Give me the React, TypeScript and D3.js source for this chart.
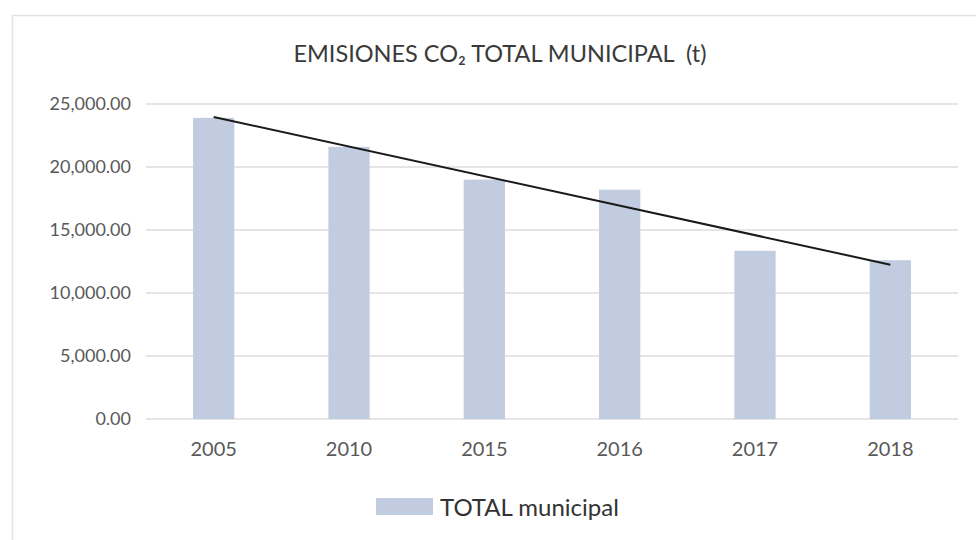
import { useEffect, useRef } from 'react';
import * as d3 from 'd3';

const years = ['2005', '2010', '2015', '2016', '2017', '2018'];
const totals = [23900, 21600, 19000, 18200, 13350, 12600];
const yTicks = [0, 5000, 10000, 15000, 20000, 25000];
const seriesName = 'TOTAL municipal';

const FONT = 'Lato, "Open Sans", sans-serif';

export default function App() {
  const ref = useRef<SVGSVGElement>(null);

  useEffect(() => {
    const width = 976;
    const height = 540;
    const margin = { top: 104, right: 18, bottom: 121, left: 146 };
    const innerWidth = width - margin.left - margin.right;
    const innerHeight = height - margin.top - margin.bottom;

    const svg = d3.select(ref.current);
    svg.selectAll('*').remove();

    svg.append('rect').attr('width', width).attr('height', height).attr('fill', '#fff');

    // chart frame (only top and left edges show)
    svg.append('path')
      .attr('d', `M12.5,${height}V15.5H${width}`)
      .attr('fill', 'none')
      .attr('stroke', '#e3e3e3')
      .attr('stroke-width', 1.5);

    svg.append('text')
      .attr('x', 500)
      .attr('y', 62)
      .attr('text-anchor', 'middle')
      .attr('font-family', FONT)
      .attr('font-size', 23.5)
      .attr('fill', '#3a3a3a')
      .style('white-space', 'pre')
      .text('EMISIONES CO₂ TOTAL MUNICIPAL  (t)');

    const g = svg.append('g').attr('transform', `translate(${margin.left}, ${margin.top})`);

    const x = d3.scaleBand().domain(years).range([0, innerWidth]).paddingInner(0.695).paddingOuter(0.3475);
    const y = d3.scaleLinear().domain([0, 25000]).range([innerHeight, 0]);

    g.selectAll('.grid')
      .data(yTicks)
      .join('line')
      .attr('class', 'grid')
      .attr('x1', 0)
      .attr('x2', innerWidth)
      .attr('y1', (d) => y(d))
      .attr('y2', (d) => y(d))
      .attr('stroke', '#dcdcdc')
      .attr('stroke-width', 1.3);

    g.selectAll('.ylab')
      .data(yTicks)
      .join('text')
      .attr('class', 'ylab')
      .attr('x', -15)
      .attr('y', (d) => y(d))
      .attr('dy', '0.36em')
      .attr('text-anchor', 'end')
      .attr('font-family', FONT)
      .attr('font-size', 18)
      .attr('fill', '#595959')
      .text((d) => d3.format(',.2f')(d));

    g.selectAll('.bar')
      .data(totals)
      .join('rect')
      .attr('class', 'bar')
      .attr('x', (d, i) => x(years[i])!)
      .attr('width', x.bandwidth())
      .attr('y', (d) => y(d))
      .attr('height', (d) => innerHeight - y(d))
      .attr('fill', '#c2cce0');

    g.selectAll('.xlab')
      .data(years)
      .join('text')
      .attr('class', 'xlab')
      .attr('x', (d) => x(d)! + x.bandwidth() / 2)
      .attr('y', innerHeight + 37)
      .attr('text-anchor', 'middle')
      .attr('font-family', FONT)
      .attr('font-size', 20)
      .attr('fill', '#595959')
      .text((d) => d);

    // linear trendline (least squares over category index)
    const idx = totals.map((_, i) => i + 1);
    const mx = d3.mean(idx)!;
    const my = d3.mean(totals)!;
    const slope = d3.sum(idx, (v, i) => (v - mx) * (totals[i] - my)) / d3.sum(idx, (v) => (v - mx) ** 2);
    const icpt = my - slope * mx;
    const trend = years.map((yr, i) => [x(yr)! + x.bandwidth() / 2, y(icpt + slope * (i + 1))] as [number, number]);
    const ends = [trend[0], trend[trend.length - 1]];

    g.append('path')
      .attr('d', d3.line()(ends))
      .attr('fill', 'none')
      .attr('stroke', '#1a1a1a')
      .attr('stroke-width', 2);

    const legend = svg.append('g').attr('transform', 'translate(376, 498)');
    legend.append('rect').attr('width', 57).attr('height', 17).attr('fill', '#c2cce0');
    legend.append('text')
      .attr('x', 64)
      .attr('y', 18)
      .attr('font-family', FONT)
      .attr('font-size', 24)
      .attr('fill', '#333')
      .text(seriesName);
  }, []);

  return (
    <svg ref={ref} width={976} height={540} style={{ position: 'absolute', left: 0, top: 0 }} />
  );
}
